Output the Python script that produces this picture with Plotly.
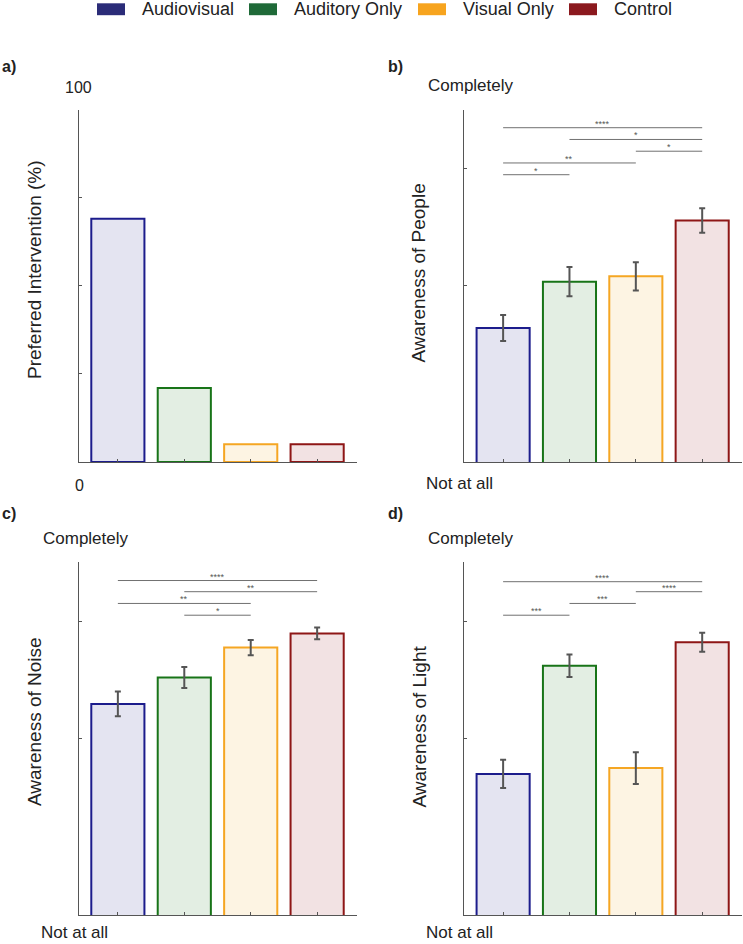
import plotly.graph_objects as go

W, H = 743, 944

groups = ["Audiovisual", "Auditory Only", "Visual Only", "Control"]
edge_colors = ["#1c1c8c", "#187418", "#f5a623", "#8e1616"]
fill_colors = ["#e4e4f1", "#e3eee3", "#fdf4e3", "#f2e2e3"]
legend_colors = ["#2b2c78", "#1f6a38", "#f7a41e", "#8b191e"]

pref_pct = [69, 21, 5, 5]

people_mean = [3.28, 4.07, 4.16, 5.11]
people_err = [0.22, 0.25, 0.24, 0.21]
noise_mean = [4.59, 5.04, 5.55, 5.79]
noise_err = [0.21, 0.18, 0.13, 0.10]
light_mean = [3.40, 5.24, 3.50, 5.64]
light_err = [0.24, 0.19, 0.27, 0.16]

# significance brackets: (from group, to group, label, height)
people_sig = [(0, 3, "****", 6.69), (1, 3, "*", 6.49), (2, 3, "*", 6.29), (0, 2, "**", 6.09), (0, 1, "*", 5.89)]
noise_sig = [(0, 3, "****", 6.69), (1, 3, "**", 6.50), (0, 2, "**", 6.30), (1, 2, "*", 6.10)]
light_sig = [(0, 3, "****", 6.67), (2, 3, "****", 6.50), (1, 2, "***", 6.30), (0, 1, "***", 6.10)]

FONT = "Liberation Sans, Arial, sans-serif"
TXT = "#222222"
AX = "#555555"


def px(x):
    return x / W


def py(y):
    return 1 - y / H


fig = go.Figure()

xs = [0, 1, 2, 3]
panels = [
    ("x", "y", pref_pct, None, None),
    ("x2", "y2", people_mean, people_err, people_sig),
    ("x3", "y3", noise_mean, noise_err, noise_sig),
    ("x4", "y4", light_mean, light_err, light_sig),
]

for xa, ya, vals, errs, sig in panels:
    kw = {}
    if errs is not None:
        kw["error_y"] = dict(type="data", array=errs, color="#555555", thickness=2, width=3)
    fig.add_trace(go.Bar(
        x=xs, y=vals, xaxis=xa, yaxis=ya, width=0.8,
        marker=dict(color=fill_colors, line=dict(color=edge_colors, width=2)),
        showlegend=False, hoverinfo="skip", **kw))
    if sig:
        for a, b, lab, h in sig:
            fig.add_shape(type="line", xref=xa, yref=ya, x0=a, x1=b, y0=h, y1=h,
                          line=dict(color="#707070", width=1))
            fig.add_annotation(xref=xa, yref=ya, x=(a + b) / 2, y=h, text=lab,
                               showarrow=False, yanchor="bottom", yshift=-3,
                               font=dict(size=9, color="#555555", family=FONT))

domains_x = {"a": [px(79), px(357)], "b": [px(464.3), px(742)]}
top_y = [py(462), py(109.5)]
bot_y = [py(915), py(562.3)]

axis_common = dict(showgrid=False, zeroline=False, showline=True, linecolor=AX, linewidth=1,
                   ticks="inside", ticklen=3, tickcolor=AX, showticklabels=False, fixedrange=True)

layout = dict(
    width=W, height=H, margin=dict(l=0, r=0, t=0, b=0),
    paper_bgcolor="white", plot_bgcolor="white", showlegend=False,
    font=dict(family=FONT, color=TXT),
    bargap=0.2,
)
xr = [-0.585, 3.6]
layout["xaxis"] = dict(domain=domains_x["a"], anchor="y", range=xr, tickvals=xs, **axis_common)
layout["xaxis2"] = dict(domain=domains_x["b"], anchor="y2", range=xr, tickvals=xs, **axis_common)
layout["xaxis3"] = dict(domain=domains_x["a"], anchor="y3", range=xr, tickvals=xs, **axis_common)
layout["xaxis4"] = dict(domain=domains_x["b"], anchor="y4", range=xr, tickvals=xs, **axis_common)
layout["yaxis"] = dict(domain=top_y, anchor="x", range=[0, 100], tickvals=[25, 50, 75, 100], **axis_common)
layout["yaxis2"] = dict(domain=top_y, anchor="x2", range=[1, 7], tickvals=[4, 6, 7], **axis_common)
layout["yaxis3"] = dict(domain=bot_y, anchor="x3", range=[1, 7], tickvals=[4, 6, 7], **axis_common)
layout["yaxis4"] = dict(domain=bot_y, anchor="x4", range=[1, 7], tickvals=[4, 6, 7], **axis_common)
fig.update_layout(**layout)


def label(x, y, text, size, bold=False, angle=0, color=TXT, xanchor="center"):
    fig.add_annotation(xref="paper", yref="paper", x=px(x), y=py(y), text=f"<b>{text}</b>" if bold else text,
                       showarrow=False, xanchor=xanchor, yanchor="middle", textangle=angle,
                       font=dict(size=size, color=color, family=FONT))


# panel letters
label(9, 66, "a)", 16, bold=True)
label(395, 66, "b)", 16, bold=True)
label(9, 513, "c)", 16, bold=True)
label(395, 513, "d)", 16, bold=True)

# y-axis end labels
label(78, 87, "100", 16)
label(79, 485, "0", 16)
label(470.5, 86, "Completely", 17)
label(459.5, 483, "Not at all", 17)
label(85.5, 538.5, "Completely", 17)
label(74.5, 932, "Not at all", 17)
label(470.5, 538.5, "Completely", 17)
label(459.5, 932, "Not at all", 17)

# y-axis titles
label(34, 270, "Preferred Intervention (%)", 19, angle=-90)
label(418.5, 273, "Awareness of People", 19, angle=-90)
label(34, 722, "Awareness of Noise", 19, angle=-90)
label(418.5, 726, "Awareness of Light", 19, angle=-90)

# legend
sw_x = [97, 249, 418, 569]
for g, c, x0 in zip(groups, legend_colors, sw_x):
    fig.add_shape(type="rect", xref="paper", yref="paper", x0=px(x0), x1=px(x0 + 28),
                  y0=py(15.2), y1=py(3.3), fillcolor=c, line=dict(width=0))
    label(x0 + 43, 9.5, g, 18, xanchor="left")

fig.write_html("out.html",
               config={"displayModeBar": False, "staticPlot": True},
               post_script="document.body.style.margin='0';document.body.style.overflow='hidden';")
